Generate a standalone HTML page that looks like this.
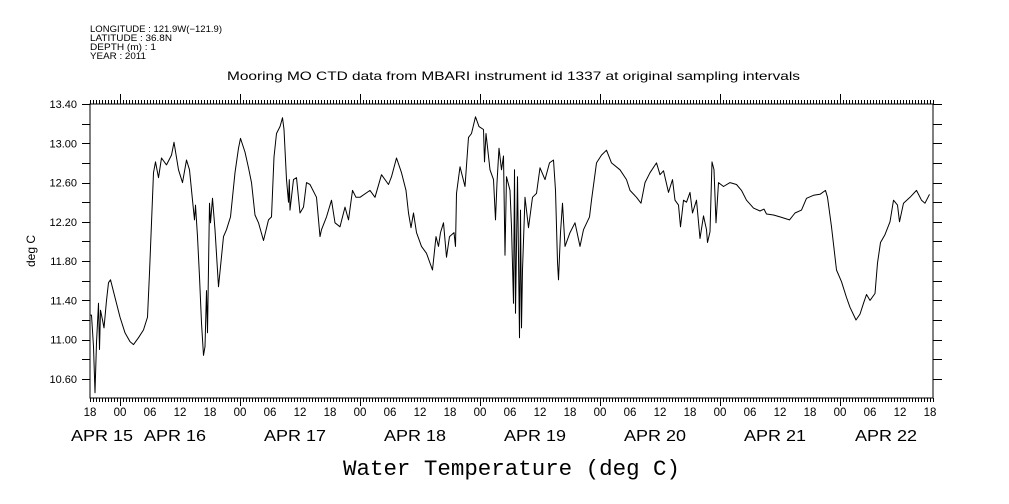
<!DOCTYPE html>
<html><head><meta charset="utf-8"><style>
html,body{margin:0;padding:0;background:#fff;width:1009px;height:504px;overflow:hidden}
svg{display:block}
text{font-family:"Liberation Sans",sans-serif;fill:#000}
</style></head><body>
<svg id="chart" width="1009" height="504" viewBox="0 0 1009 504" xmlns="http://www.w3.org/2000/svg">
<g font-size="9">
<text x="90" y="32" textLength="132" lengthAdjust="spacingAndGlyphs">LONGITUDE : 121.9W(−121.9)</text>
<text x="90" y="41" textLength="82" lengthAdjust="spacingAndGlyphs">LATITUDE : 36.8N</text>
<text x="90" y="50" textLength="66" lengthAdjust="spacingAndGlyphs">DEPTH (m) : 1</text>
<text x="90" y="59" textLength="56" lengthAdjust="spacingAndGlyphs">YEAR : 2011</text>
</g>
<text x="227" y="80" font-size="12" textLength="573" lengthAdjust="spacingAndGlyphs">Mooring MO CTD data from MBARI instrument id 1337 at original sampling intervals</text>
<text transform="translate(35,251) rotate(-90)" font-size="12" text-anchor="middle">deg C</text>
<text x="343" y="475" font-size="22.5" textLength="337" lengthAdjust="spacingAndGlyphs" style="font-family:'Liberation Mono','DejaVu Sans Mono',monospace">Water Temperature (deg C)</text>
<g id="axes"></g>
<g id="series"></g>
</svg>
<script>
// hours since Apr 15 18:00
const hours = [0,0.3,0.7,1.0,1.3,1.7,1.9,2.1,2.5,2.8,3.3,3.7,4.1,5,6,7,8,8.7,9.7,10.7,11.5,11.9,12.3,12.7,13.1,13.7,14.3,15.3,16.3,16.8,17.7,18.5,19.3,19.9,20.5,20.9,21.1,21.5,21.9,22.3,22.7,23,23.3,23.5,23.9,24.1,24.5,25,25.7,26.7,27.3,28.1,29,29.7,30.1,31,31.7,32.3,33,33.7,34.7,35.7,36.3,36.8,37.3,38,38.5,38.8,39.3,39.7,39.85,40,40.7,41.3,42,42.7,43.3,44,45.3,46,46.3,47.3,48.3,49,50,51,51.7,52.5,53.2,54,56,57,58.3,59.7,60.3,61.3,62.3,63.2,63.7,64.2,64.7,65.3,66.3,67.3,68.5,69.2,69.7,70.1,70.7,71.3,71.9,72.8,73.1,73.3,74,75,75.7,76.3,77.1,77.8,78.7,78.9,79.2,80,80.7,81.1,81.4,81.8,82.3,82.7,83,83.3,84,84.3,84.7,84.9,85.1,85.5,85.9,86.1,86.3,86.5,87,87.7,88.5,89.3,90,91,91.9,92.7,93.1,93.5,93.7,94.1,94.5,95,96,97,98,98.7,99.9,100.3,101.3,102.3,103.3,104.3,106,107.3,108,109.3,110.2,111,112,113.3,114,114.7,115.7,116.5,117,117.7,118.1,118.7,119.3,120,120.5,121.3,122,122.7,123.3,123.5,124,124.4,124.8,125.2,125.7,126.7,128,129.3,130.3,131.3,132.7,134,134.8,135.3,136.7,138,139.9,141,142.3,143.3,144.7,146,147.1,147.5,148.3,149.3,150.3,151.3,152,153.2,154,154.7,155.3,156,157,157.5,158.1,159,160,160.7,161.5,161.9,162.7,164,165.3,166.3,167,167.9];
const temps = [11.25,11.25,10.93,10.46,10.97,11.37,10.9,11.3,11.2,11.12,11.4,11.58,11.61,11.43,11.23,11.07,10.98,10.95,11.02,11.1,11.23,11.68,12.19,12.7,12.81,12.65,12.85,12.78,12.88,13.01,12.73,12.6,12.83,12.73,12.42,12.22,12.37,12.05,11.64,11.17,10.84,10.93,11.5,11.07,12.39,12.19,12.44,12.12,11.54,12.05,12.12,12.25,12.7,12.95,13.05,12.91,12.75,12.6,12.27,12.19,12.01,12.22,12.25,12.86,13.1,13.17,13.26,13.14,12.63,12.4,12.63,12.32,12.63,12.65,12.29,12.35,12.6,12.58,12.45,12.05,12.12,12.25,12.42,12.19,12.15,12.35,12.22,12.52,12.45,12.45,12.52,12.45,12.68,12.58,12.66,12.85,12.7,12.52,12.29,12.14,12.29,12.09,11.95,11.88,11.71,12.05,11.95,12.09,12.19,11.84,12.05,12.09,11.95,12.49,12.76,12.56,13.06,13.1,13.27,13.17,13.14,12.81,13.1,12.73,12.63,12.22,12.6,12.95,12.73,12.87,11.86,12.66,12.52,12.15,11.37,12.73,11.27,12.66,11.02,12.32,11.12,11.71,12.45,12.14,12.45,12.49,12.75,12.63,12.8,12.83,12.52,11.79,11.61,12.09,12.39,11.95,12.09,12.19,11.95,12.12,12.25,12.42,12.8,12.88,12.93,12.8,12.73,12.63,12.52,12.45,12.39,12.6,12.7,12.8,12.68,12.72,12.5,12.63,12.42,12.37,12.15,12.42,12.4,12.5,12.29,12.42,12.03,12.26,12.12,11.99,12.1,12.81,12.73,12.19,12.6,12.56,12.6,12.58,12.52,12.42,12.34,12.31,12.33,12.28,12.27,12.25,12.22,12.29,12.32,12.44,12.47,12.48,12.52,12.45,12.15,11.71,11.59,11.43,11.33,11.2,11.26,11.37,11.46,11.4,11.47,11.78,11.99,12.07,12.2,12.42,12.37,12.2,12.39,12.45,12.52,12.42,12.39,12.48];
const yTickLabels = ["10.60","11.00","11.40","11.80","12.20","12.60","13.00","13.40"];
const xHourLabels = ["18","00","06","12","18","00","06","12","18","00","06","12","18","00","06","12","18","00","06","12","18","00","06","12","18","00","06","12","18"];
const dayLabels = ["APR 15","APR 16","APR 17","APR 18","APR 19","APR 20","APR 21","APR 22"];

const X0=90, X1=933, Y0=104, Y1=398, PXH=5, VMAX=13.4, PXV=98.2;
const xs = h => X0 + h*PXH;
const ys = v => Y0 + (VMAX - v)*PXV;
const NS="http://www.w3.org/2000/svg";
function mk(tag, attrs, parent){const e=document.createElementNS(NS,tag);for(const k in attrs)e.setAttribute(k,attrs[k]);parent.appendChild(e);return e;}
const axes=document.getElementById('axes');
const frame=mk('rect',{x:X0,y:Y0,width:X1-X0,height:Y1-Y0,fill:'none',stroke:'#000','stroke-width':1,'shape-rendering':'crispEdges'},axes);


for(let i=0;i<=14;i++){
  const v=10.6+i*0.2; const y=Math.round(ys(v))+0.5;
  if(y<Y0-1) continue;
  const t1=mk('line',{x1:X0-8,x2:X0,y1:y,y2:y,stroke:'#000'},axes);
  
  
  const t2=mk('line',{x1:X1,x2:X1+9,y1:y,y2:y,stroke:'#000'},axes);
  
  
}
yTickLabels.forEach(s=>{
  const t=mk('text',{x:X0-13,y:ys(parseFloat(s))+4,'font-size':11,'text-anchor':'end'},axes);
  t.textContent=s;
  
  
});
for(let i=0;;i++){
  const x=X0+i*3; if(x>X1) break;
  const xx=Math.round(x)+0.5;
  const a=mk('line',{x1:xx,x2:xx,y1:Y0-4,y2:Y0,stroke:'#000'},axes);
  
  
  const b=mk('line',{x1:xx,x2:xx,y1:Y1,y2:Y1+4,stroke:'#000'},axes);
  
  
}
for(let d=0;d<7;d++){
  const xx=Math.round(xs(6+d*24))+0.5;
  const a=mk('line',{x1:xx,x2:xx,y1:Y0-10,y2:Y0,stroke:'#000'},axes);
  
  
  const b=mk('line',{x1:xx,x2:xx,y1:Y1,y2:Y1+8,stroke:'#000'},axes);
  
  
}
xHourLabels.forEach((s,i)=>{
  const t=mk('text',{x:xs(i*6),y:416,'font-size':11.5,'text-anchor':'middle'},axes);
  t.textContent=s;
  
  
});
dayLabels.forEach((s,i)=>{
  let cx = i===0 ? 102 : xs(17+(i-1)*24);
  if(i===dayLabels.length-1) cx = 886;
  const t=mk('text',{x:cx-31,y:441,'font-size':16,textLength:62,lengthAdjust:'spacingAndGlyphs'},axes);
  t.textContent=s;
  
  
});
const pts=hours.map((h,i)=>xs(h).toFixed(1)+','+ys(temps[i]).toFixed(1)).join(' ');
const line=mk('polyline',{points:pts,fill:'none',stroke:'#000','stroke-width':1,'stroke-linejoin':'round'},document.getElementById('series'));


</script>
</body></html>
